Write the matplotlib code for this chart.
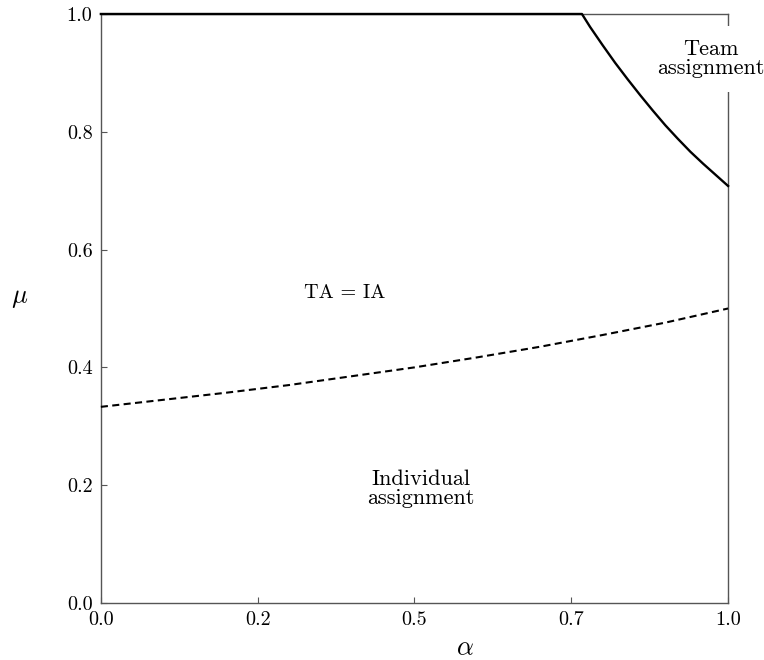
import matplotlib
matplotlib.use('Agg')
import matplotlib.pyplot as plt

plt.rcParams['font.family'] = 'cmr10'
plt.rcParams['mathtext.fontset'] = 'cm'
plt.rcParams['axes.formatter.use_mathtext'] = True

# boundary between "TA = IA" and team assignment
team_alpha = [0.0, 0.4, 0.767, 0.78, 0.80, 0.82, 0.84, 0.86, 0.88, 0.90,
              0.92, 0.94, 0.96, 0.98, 1.0]
team_mu = [1.0, 1.0, 1.0, 0.978, 0.947, 0.917, 0.889, 0.862, 0.836, 0.811,
           0.788, 0.766, 0.746, 0.727, 0.708]

# boundary between individual assignment and "TA = IA"
ind_alpha = [0.0, 0.1, 0.2, 0.3, 0.4, 0.5, 0.6, 0.7, 0.8, 0.9, 1.0]
ind_mu = [0.333, 0.345, 0.357, 0.370, 0.385, 0.400, 0.417, 0.435, 0.455, 0.476, 0.500]

x_ticks = [0.0, 0.25, 0.5, 0.75, 1.0]
x_labels = ['0.0', '0.2', '0.5', '0.7', '1.0']
y_ticks = [0.0, 0.2, 0.4, 0.6, 0.8, 1.0]
y_labels = ['0.0', '0.2', '0.4', '0.6', '0.8', '1.0']

fig = plt.figure(figsize=(7.64, 6.6), dpi=100)
ax = fig.add_axes([0.132, 0.0864, 0.821, 0.8924])

ax.plot(team_alpha, team_mu, color='black', lw=1.7, clip_on=False, zorder=3)
ax.plot(ind_alpha, ind_mu, color='black', lw=1.5, dashes=(3.4, 2.1), clip_on=False, zorder=3)

ax.set_xlim(0, 1)
ax.set_ylim(0, 1)
ax.set_xticks(x_ticks)
ax.set_xticklabels(x_labels)
ax.set_yticks(y_ticks)
ax.set_yticklabels(y_labels)
ax.tick_params(direction='in', length=4, width=0.8, color='#555555', labelsize=14.5, pad=6)

for sp in ax.spines.values():
    sp.set_color('#555555')
    sp.set_linewidth(1.0)

ax.set_xlabel(r'$\alpha$', fontsize=19, va='center')
ax.set_ylabel(r'$\mu$', fontsize=19, rotation=0, va='center', ha='center')
ax.yaxis.set_label_coords(-0.13, 0.518)
ax.xaxis.set_label_coords(0.58, -0.077)

ax.text(0.388, 0.526, 'TA = IA', fontsize=14.5, ha='center', va='center')
ax.text(0.51, 0.194, 'Individual\nassignment', fontsize=16, ha='center', va='center',
        linespacing=0.95)
ax.text(0.973, 0.924, 'Team\nassignment', fontsize=16, ha='center', va='center',
        linespacing=0.95, zorder=5,
        bbox=dict(facecolor='white', edgecolor='none', pad=10))

fig.savefig('out.png', dpi=100)
